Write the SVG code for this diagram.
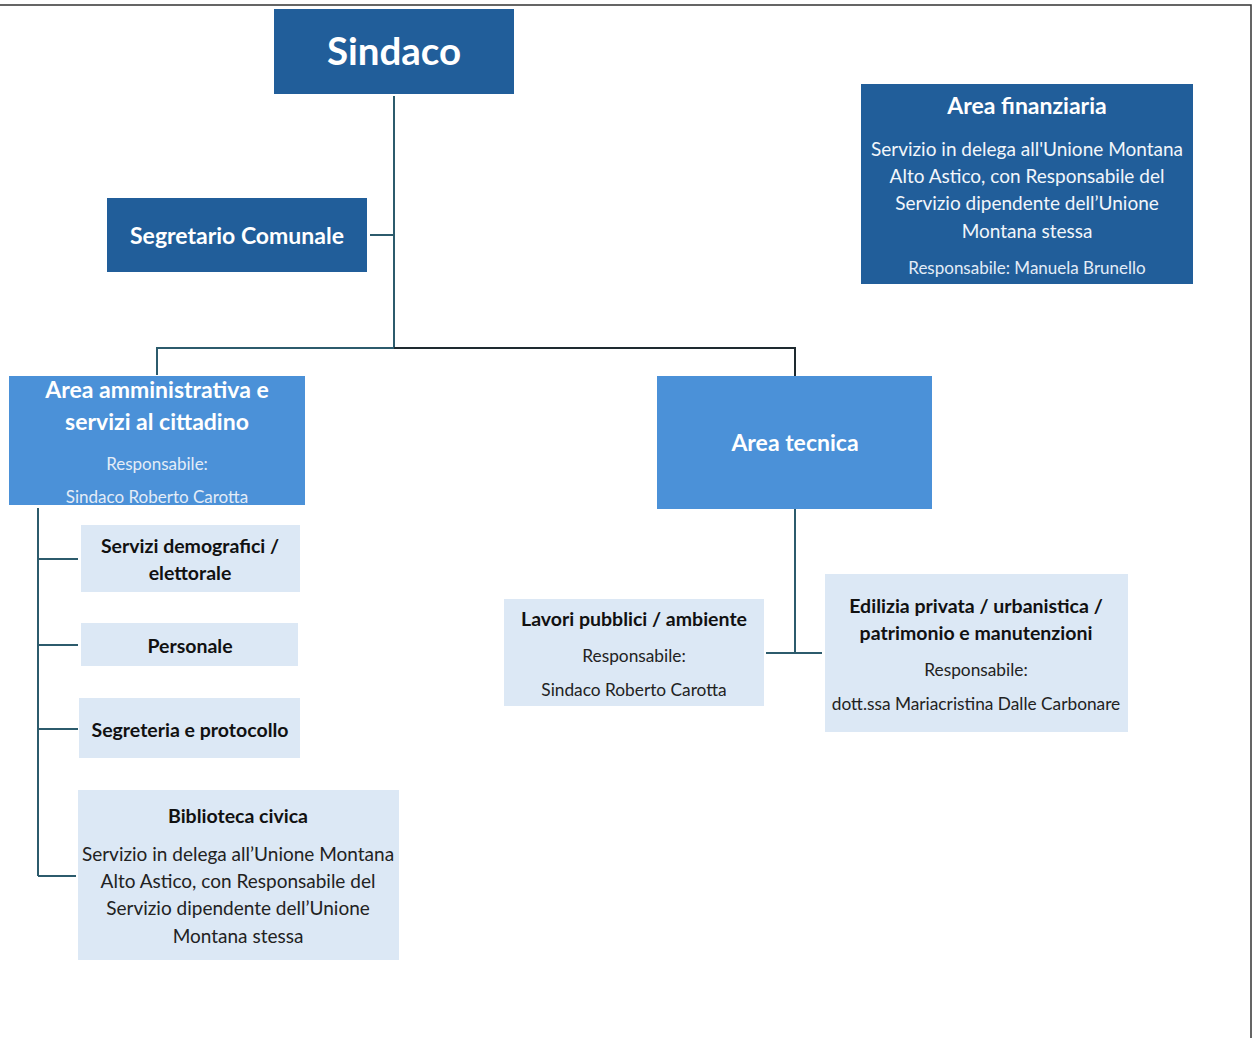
<svg xmlns="http://www.w3.org/2000/svg" width="1254" height="1038" viewBox="0 0 1254 1038">
<style>
.dark{fill:#215e9a}
.mid{fill:#4b91d8}
.light{fill:#dce8f5}
text{font-family:Lato,"Open Sans","Liberation Sans",sans-serif;text-anchor:middle;dominant-baseline:central}
.tw{fill:#ffffff;font-weight:bold;font-size:23px}
.bw{fill:#f2f6fb;font-size:19px}
.sw{fill:#e3ecf7;font-size:17px}
.tb{fill:#111111;font-weight:bold;font-size:19.5px}
.bb{fill:#222222;font-size:19px}
.sb{fill:#222222;font-size:17.3px}
.c{stroke:#2c5b6c;stroke-width:2;fill:none}
.k{stroke:#1e2a30;stroke-width:2;fill:none}
</style>
<rect width="1254" height="1038" fill="#ffffff"/>
<g id="frame"><path d="M0 5H1251V1038" stroke="#333" stroke-width="1.5" fill="none"/></g>
<g id="connectors">
<path class="c" d="M394 96V348M370 235H394M157 375V348H394"/>
<path class="k" d="M394 348H795V376"/>
<path class="c" d="M38 508V876M38 559H78M38 645H78M38 729H78M38 876H76"/>
<path class="c" d="M795 509V653M766 653H822"/>
</g>
<g id="sindaco"><rect class="dark" x="274" y="9" width="240" height="85"/><text x="394" y="50" fill="#fff" font-weight="bold" font-size="38.5">Sindaco</text></g>
<g id="segretario"><rect class="dark" x="107" y="198" width="260" height="74"/><text class="tw" x="237" y="235" font-size="24">Segretario Comunale</text></g>
<g id="area-finanziaria"><rect class="dark" x="861" y="84" width="332" height="200"/>
<text class="tw" x="1027" y="105">Area finanziaria</text>
<text class="bw" x="1027" y="148">Servizio in delega all'Unione Montana</text>
<text class="bw" x="1027" y="175">Alto Astico, con Responsabile del</text>
<text class="bw" x="1027" y="202">Servizio dipendente dell’Unione</text>
<text class="bw" x="1027" y="230">Montana stessa</text>
<text class="sw" x="1027" y="267">Responsabile: Manuela Brunello</text></g>
<g id="area-amministrativa"><rect class="mid" x="9" y="376" width="296" height="129"/>
<text class="tw" x="157" y="389">Area amministrativa e</text>
<text class="tw" x="157" y="421">servizi al cittadino</text>
<text class="sw" x="157" y="463">Responsabile:</text>
<text class="sw" x="157" y="496">Sindaco Roberto Carotta</text></g>
<g id="area-tecnica"><rect class="mid" x="657" y="376" width="275" height="133"/><text class="tw" x="795" y="442">Area tecnica</text></g>
<g id="servizi-demografici"><rect class="light" x="81" y="525" width="219" height="67"/>
<text class="tb" x="190" y="545">Servizi demografici /</text>
<text class="tb" x="190" y="572">elettorale</text></g>
<g id="personale"><rect class="light" x="81" y="623" width="217" height="43"/><text class="tb" x="190" y="645">Personale</text></g>
<g id="segreteria"><rect class="light" x="79" y="698" width="221" height="60"/><text class="tb" x="190" y="729">Segreteria e protocollo</text></g>
<g id="biblioteca"><rect class="light" x="78" y="790" width="321" height="170"/>
<text class="tb" x="238" y="815">Biblioteca civica</text>
<text class="bb" x="238" y="853">Servizio in delega all’Unione Montana</text>
<text class="bb" x="238" y="880">Alto Astico, con Responsabile del</text>
<text class="bb" x="238" y="907">Servizio dipendente dell’Unione</text>
<text class="bb" x="238" y="935">Montana stessa</text></g>
<g id="lavori-pubblici"><rect class="light" x="504" y="599" width="260" height="107"/>
<text class="tb" x="634" y="618">Lavori pubblici / ambiente</text>
<text class="sb" x="634" y="655">Responsabile:</text>
<text class="sb" x="634" y="689">Sindaco Roberto Carotta</text></g>
<g id="edilizia"><rect class="light" x="825" y="574" width="303" height="158"/>
<text class="tb" x="976" y="605">Edilizia privata / urbanistica /</text>
<text class="tb" x="976" y="632">patrimonio e manutenzioni</text>
<text class="sb" x="976" y="669">Responsabile:</text>
<text class="sb" x="976" y="703">dott.ssa Mariacristina Dalle Carbonare</text></g>
</svg>
